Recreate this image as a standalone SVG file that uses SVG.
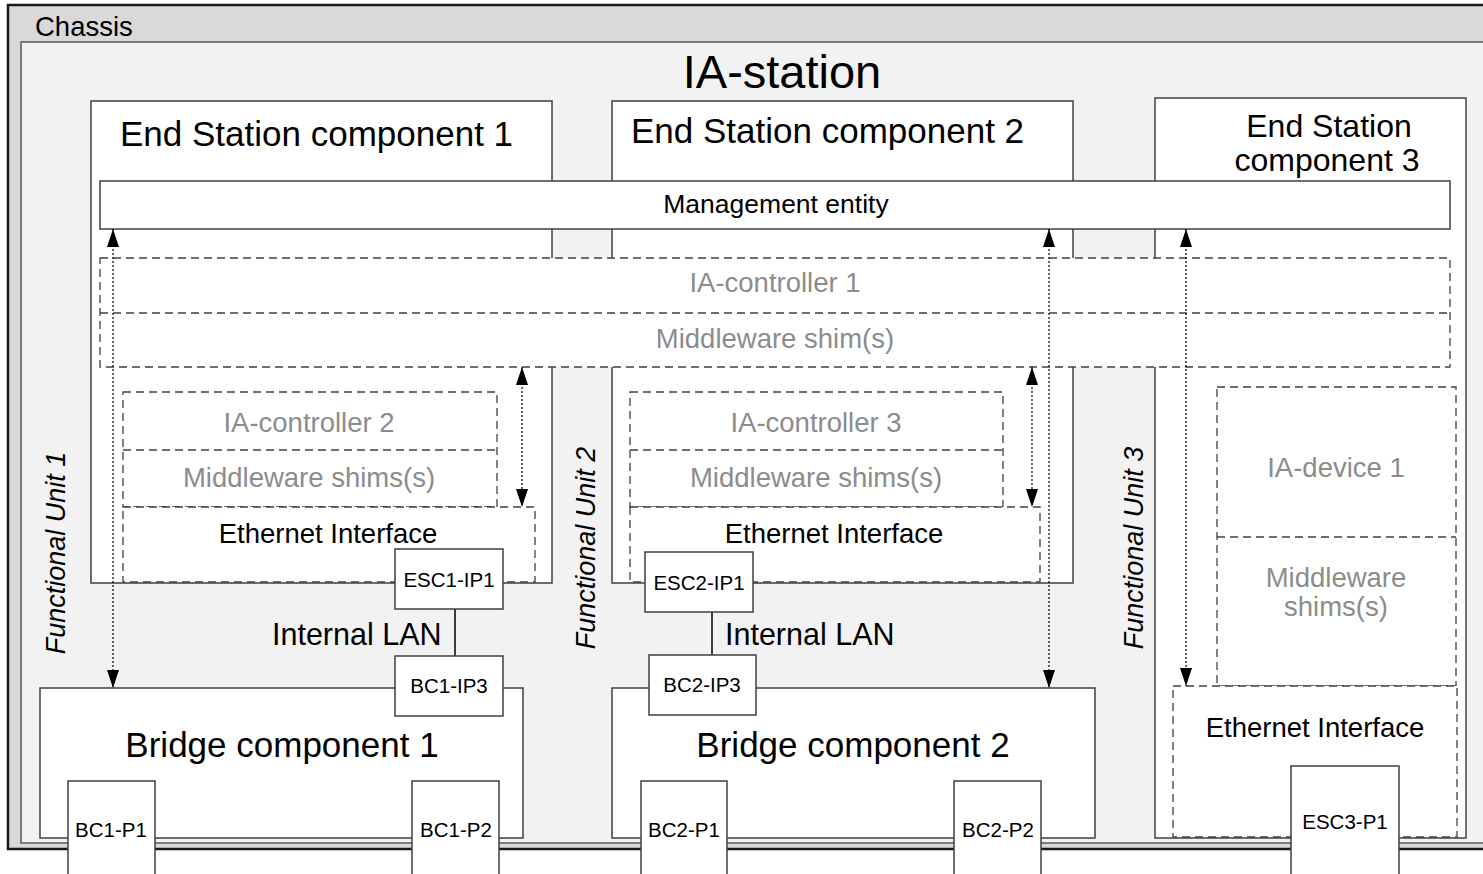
<svg xmlns="http://www.w3.org/2000/svg" width="1483" height="874" viewBox="0 0 1483 874">
<defs>
<style>
text{font-family:"Liberation Sans",Arial,sans-serif;fill:#000}
.box{fill:#fff;stroke:#404040;stroke-width:1.5}
.dash{fill:#fff;stroke:#404040;stroke-width:1.3;stroke-dasharray:8 5}
.dl{fill:none;stroke:#404040;stroke-width:1.3;stroke-dasharray:8 5}
.g{fill:#8c8c8c}
.m{font-size:27.5px}
.t{font-size:35px}
.p{font-size:20.5px}
.c{text-anchor:middle}
.arr{stroke:#000;stroke-width:1.2;stroke-dasharray:2 2;marker-start:url(#ah);marker-end:url(#ah)}
.fu{font-size:27px;font-style:italic;text-anchor:middle}
</style>
<marker id="ah" viewBox="0 0 18 12" refX="18" refY="6" markerWidth="18" markerHeight="12" markerUnits="userSpaceOnUse" orient="auto-start-reverse">
<path d="M0,0 L18,6 L0,12 z" fill="#000"/>
</marker>
</defs>

<g id="chassis">
<rect x="8" y="5" width="1500" height="844" fill="#d9d9d9" stroke="#1a1a1a" stroke-width="2.5"/>
<text x="35" y="36" style="font-size:27.5px">Chassis</text>
</g>

<g id="ia-station">
<rect x="21" y="42" width="1480" height="801" fill="#f2f2f2" stroke="#595959" stroke-width="1.5"/>
<text x="782" y="88" class="c" style="font-size:47px">IA-station</text>
</g>

<g id="esc1">
<rect class="box" x="91" y="101" width="461" height="482"/>
<text x="120" y="146" class="t">End Station component 1</text>
</g>
<g id="esc2">
<rect class="box" x="612" y="101" width="461" height="482"/>
<text x="631" y="143" class="t">End Station component 2</text>
</g>
<g id="esc3">
<rect class="box" x="1155" y="98" width="311" height="740"/>
<text x="1329" y="137" class="c" style="font-size:32px">End Station</text>
<text x="1327" y="171" class="c" style="font-size:32px">component 3</text>
</g>

<g id="management-entity">
<rect class="box" x="100" y="181" width="1350" height="48"/>
<text x="776" y="213" class="c" style="font-size:26.5px">Management entity</text>
</g>

<g id="ia-controller-1">
<rect class="dash" x="100" y="258" width="1350" height="109"/>
<line class="dl" x1="100" y1="313" x2="1450" y2="313"/>
<text x="775" y="292" class="m c g">IA-controller 1</text>
<text x="775" y="348" class="m c g">Middleware shim(s)</text>
</g>

<g id="ia-controller-2">
<rect class="dash" x="123" y="392" width="374" height="115"/>
<line class="dl" x1="123" y1="450" x2="497" y2="450"/>
<text x="309" y="432" class="m c g">IA-controller 2</text>
<text x="309" y="487" class="m c g">Middleware shims(s)</text>
</g>
<g id="eth-if-1">
<rect class="dash" x="123" y="507" width="412" height="75"/>
<text x="328" y="543" class="m c">Ethernet Interface</text>
</g>

<g id="ia-controller-3">
<rect class="dash" x="630" y="392" width="373" height="115"/>
<line class="dl" x1="630" y1="450" x2="1003" y2="450"/>
<text x="816" y="432" class="m c g">IA-controller 3</text>
<text x="816" y="487" class="m c g">Middleware shims(s)</text>
</g>
<g id="eth-if-2">
<rect class="dash" x="630" y="507" width="410" height="75"/>
<text x="834" y="543" class="m c">Ethernet Interface</text>
</g>

<g id="ia-device-1">
<rect class="dash" x="1217" y="387" width="239" height="299"/>
<line class="dl" x1="1217" y1="537" x2="1456" y2="537"/>
<text x="1336" y="477" class="m c g">IA-device 1</text>
<text x="1336" y="587" class="m c g">Middleware</text>
<text x="1336" y="616" class="m c g">shims(s)</text>
</g>
<g id="eth-if-3">
<rect class="dash" x="1173" y="686" width="284" height="151"/>
<text x="1315" y="737" class="m c">Ethernet Interface</text>
</g>

<g id="bridge-1">
<rect class="box" x="40" y="688" width="483" height="150"/>
<text x="282" y="757" class="t c">Bridge component 1</text>
</g>
<g id="bridge-2">
<rect class="box" x="612" y="688" width="483" height="150"/>
<text x="853" y="757" class="t c">Bridge component 2</text>
</g>

<g id="connectors">
<line x1="455" y1="609" x2="455" y2="656" stroke="#000" stroke-width="1.5"/>
<line x1="712" y1="612" x2="712" y2="655" stroke="#000" stroke-width="1.5"/>
<line class="arr" x1="113" y1="229" x2="113" y2="688"/>
<line class="arr" x1="1049" y1="229" x2="1049" y2="688"/>
<line class="arr" x1="1186" y1="229" x2="1186" y2="686"/>
<line class="arr" x1="522" y1="367" x2="522" y2="507"/>
<line class="arr" x1="1032" y1="367" x2="1032" y2="507"/>
<text x="272" y="645" style="font-size:30.5px">Internal LAN</text>
<text x="725" y="645" style="font-size:30.5px">Internal LAN</text>
</g>

<g id="esc1-ip1">
<rect class="box" x="395" y="549" width="108" height="60"/>
<text x="449" y="587" class="p c">ESC1-IP1</text>
</g>
<g id="esc2-ip1">
<rect class="box" x="645" y="552" width="108" height="60"/>
<text x="699" y="590" class="p c">ESC2-IP1</text>
</g>
<g id="bc1-ip3">
<rect class="box" x="395" y="656" width="108" height="60"/>
<text x="449" y="693" class="p c">BC1-IP3</text>
</g>
<g id="bc2-ip3">
<rect class="box" x="649" y="655" width="107" height="60"/>
<text x="702" y="692" class="p c">BC2-IP3</text>
</g>

<g id="bc1-p1">
<rect class="box" x="68" y="781" width="87" height="100"/>
<text x="111" y="837" class="p c">BC1-P1</text>
</g>
<g id="bc1-p2">
<rect class="box" x="412" y="781" width="87" height="100"/>
<text x="456" y="837" class="p c">BC1-P2</text>
</g>
<g id="bc2-p1">
<rect class="box" x="641" y="781" width="86" height="100"/>
<text x="684" y="837" class="p c">BC2-P1</text>
</g>
<g id="bc2-p2">
<rect class="box" x="954" y="781" width="87" height="100"/>
<text x="998" y="837" class="p c">BC2-P2</text>
</g>
<g id="esc3-p1">
<rect class="box" x="1291" y="766" width="108" height="115"/>
<text x="1345" y="829" class="p c">ESC3-P1</text>
</g>

<g id="functional-units">
<text class="fu" transform="translate(65,553) rotate(-90)">Functional Unit 1</text>
<text class="fu" transform="translate(595,548) rotate(-90)">Functional Unit 2</text>
<text class="fu" transform="translate(1143,548) rotate(-90)">Functional Unit 3</text>
</g>
</svg>
